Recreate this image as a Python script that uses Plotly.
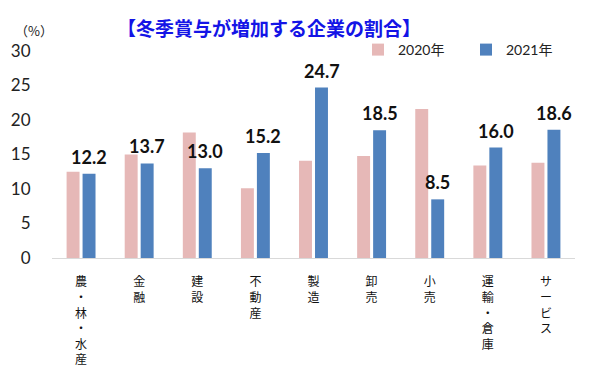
import plotly.graph_objects as go

categories = ["農・林・水産", "金融", "建設", "不動産", "製造", "卸売", "小売", "運輸・倉庫", "サービス"]
values_2020 = [12.5, 15.0, 18.2, 10.1, 14.1, 14.8, 21.6, 13.4, 13.8]
values_2021 = [12.2, 13.7, 13.0, 15.2, 24.7, 18.5, 8.5, 16.0, 18.6]
series_names = ["2020年", "2021年"]
y_ticks = [0, 5, 10, 15, 20, 25, 30]

PINK = "#E6B8B7"
BLUE = "#4F81BD"
JP = "Noto Sans CJK JP"
NUM = "Lato, Noto Sans CJK JP"

# the page body has an 8px margin, so the figure is sized and laid out for that offset
W, H = 592, 363

tick_text = ["<br>".join(list(c)) for c in categories]

fig = go.Figure()
fig.add_trace(go.Bar(x=categories, y=values_2020, name=series_names[0],
                     marker=dict(color=PINK, line=dict(width=0))))
fig.add_trace(go.Bar(x=categories, y=values_2021, name=series_names[1],
                     marker=dict(color=BLUE, line=dict(width=0))))

annotations = []
for c, v in zip(categories, values_2021):
    annotations.append(dict(x=c, y=v, xref="x", yref="y", text=f"<b>{v:.1f}</b>",
                            showarrow=False, xshift=8, yshift=4, yanchor="bottom",
                            font=dict(family=NUM, size=18, color="#111111")))
annotations.append(dict(text="（%）", x=-0.075, y=1.097, xref="paper", yref="paper",
                        xanchor="left", yanchor="middle", showarrow=False,
                        font=dict(family=JP, size=13, color="#222222")))

fig.update_layout(
    width=W, height=H,
    margin=dict(l=44, r=25, t=43, b=113, pad=0, autoexpand=False),
    paper_bgcolor="white", plot_bgcolor="white",
    barmode="group", bargap=0.45, bargroupgap=0.19,
    title=dict(text="<b>【冬季賞与が増加する企業の割合】</b>",
               x=261 / W, xanchor="center", y=1 - 21 / H, yanchor="middle",
               font=dict(family=JP, size=19, color="#1414E6")),
    legend=dict(orientation="h", xref="container", x=350 / W, xanchor="left",
                yref="container", y=1 - 42 / H, yanchor="middle",
                entrywidth=63, entrywidthmode="pixels",
                font=dict(family=NUM, size=14, color="#222222"),
                bgcolor="rgba(0,0,0,0)", itemwidth=30, traceorder="normal"),
    annotations=annotations,
    xaxis=dict(tickvals=categories, ticktext=tick_text, showline=True,
               linecolor="#D9D9D9", linewidth=1, ticks="outside", ticklen=13,
               tickcolor="rgba(0,0,0,0)", automargin=False,
               tickfont=dict(family=JP, size=12, color="#111111"), tickangle=0,
               showgrid=False),
    yaxis=dict(range=[0, 30], tickvals=y_ticks, showgrid=False, zeroline=False,
               showline=False, ticks="outside", ticklen=17, tickcolor="rgba(0,0,0,0)",
               automargin=False,
               tickfont=dict(family=NUM, size=17, color="#222222")),
)

fig.write_html("out.html")
